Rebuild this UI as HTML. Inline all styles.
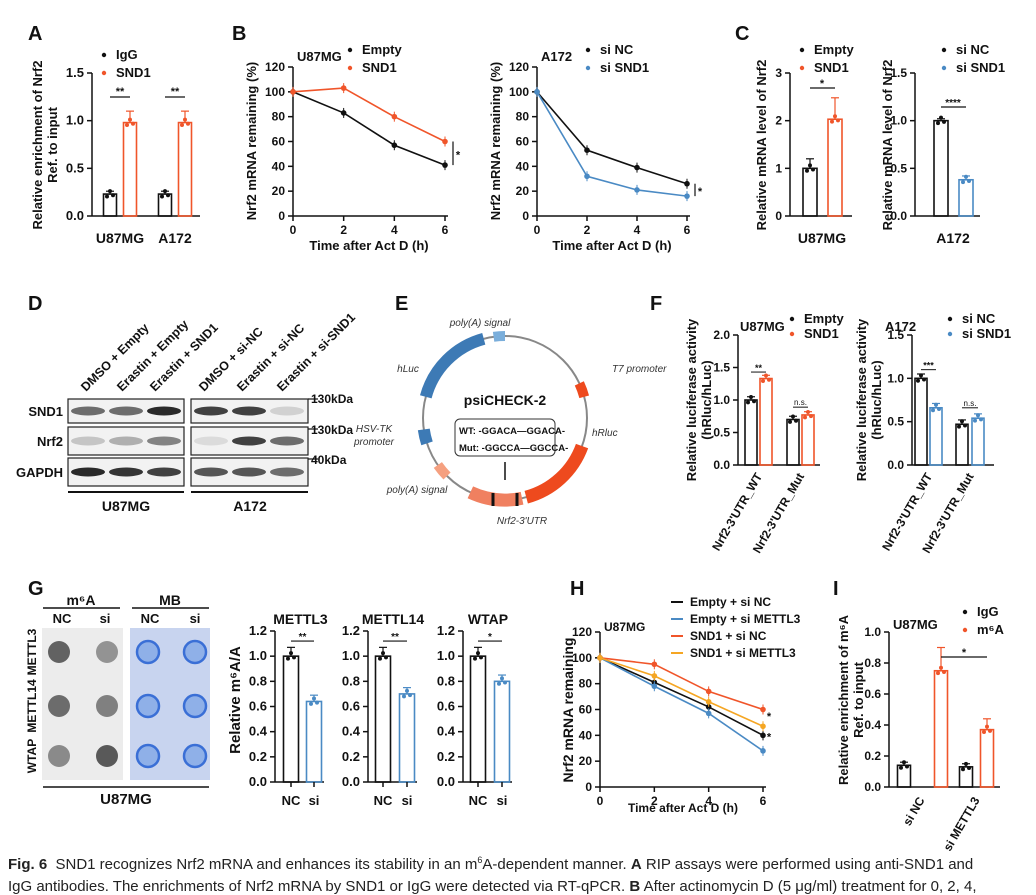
<!DOCTYPE html>
<html><head><meta charset="utf-8">
<style>
html,body{margin:0;padding:0;background:#fff}
svg{display:block;font-family:"Liberation Sans",Arial,sans-serif}
.cap{position:absolute;left:8px;top:849px;width:988px;font:15px/22px "Liberation Sans",sans-serif;color:#222;white-space:normal}
</style></head>
<body>
<div style="position:relative;width:1036px;height:895px;overflow:hidden">
<svg id="fig" width="1036" height="895" viewBox="0 0 1036 895"></svg>
<div class="cap"><b>Fig. 6</b>&nbsp; SND1 recognizes Nrf2 mRNA and enhances its stability in an m<sup style="font-size:9px">6</sup>A-dependent manner. <b>A</b> RIP assays were performed using anti-SND1 and<br>IgG antibodies. The enrichments of Nrf2 mRNA by SND1 or IgG were detected via RT-qPCR. <b>B</b> After actinomycin D (5 μg/ml) treatment for 0, 2, 4,</div>
</div>
<script>
// ---- data ----
const aCats=["U87MG","A172"]; const aIgG=[0.23,0.23]; const aSND1=[0.98,0.98];
const bTime=[0,2,4,6]; const bEmpty=[100,83,57,41]; const bSND1=[100,103,80,60];
const bSiNC=[100,53,39,26]; const bSiSND1=[100,32,21,16];
const cU87=[1.0,2.03]; const cA172=[1.0,0.38];
const fU87=[1.0,1.33,0.7,0.77]; const fA172=[1.0,0.66,0.47,0.54];
const gMETTL3=[1.0,0.64]; const gMETTL14=[1.0,0.7]; const gWTAP=[1.0,0.8];
const hEmptyNC=[100,81,62,40]; const hEmptyM3=[100,78,57,28]; const hSNDNC=[100,95,74,60]; const hSNDM3=[100,86,66,47];
const iIgG=[0.14,0.13]; const iM6A=[0.75,0.37];
const ORG="#f0552a", BLU="#4a8ac4", YEL="#f5a623";
const svg=document.getElementById('fig'); const NS="http://www.w3.org/2000/svg";
function el(tag,attrs,name,txt){const e=document.createElementNS(NS,tag);for(const k in attrs)e.setAttribute(k,attrs[k]);


if(txt!==undefined)e.textContent=txt;svg.appendChild(e);return e;}
function T(x,y,s,sz,opt,name){opt=opt||{};const a={x:x,y:y,'font-size':sz,'font-weight':opt.w||'bold','text-anchor':opt.a||'middle',fill:opt.f||'#111'};
if(opt.r!==undefined)a.transform=`rotate(${opt.r} ${x} ${y})`; if(opt.i)a['font-style']='italic';return el('text',a,name||'label',s);}
function L(x1,y1,x2,y2,c,w,name){return el('line',{x1,y1,x2,y2,stroke:c||'#111','stroke-width':w||1.5},name||'line');}
function yAxis(x,y0,y1,ticks,vmax,fmt,fs){const sc=v=>y0-(y0-y1)*v/vmax;L(x,y0,x,y1,'#111',1.5,'y-axis');
ticks.forEach(t=>{L(x-5,sc(t),x,sc(t),'#111',1.5,'y-tick');T(x-8,sc(t)+4,fmt(t),fs||12,{a:'end'},'y-tick-label');});return sc;}
function bar(cx,w,y0,v,sc,c,name,err){const y=sc(v);el('rect',{x:cx-w/2,y:y,width:w,height:y0-y,fill:'none',stroke:c,'stroke-width':1.6},name);
const e=sc(v+err)-y;L(cx,y,cx,y+e,c,1.2,'error-bar');L(cx-4,y+e,cx+4,y+e,c,1.2,'error-cap');
[-3,0,3].forEach((d,i)=>el('circle',{cx:cx+d,cy:y+[4,-5,2][i]*0.6,r:2,fill:c},'data-point'));}
function lineChart(xs,ys,xsc,ysc,c,name){el('polyline',{points:xs.map((t,i)=>xsc(t)+','+ysc(ys[i])).join(' '),fill:'none',stroke:c,'stroke-width':1.6},name);
xs.forEach((t,i)=>{el('circle',{cx:xsc(t),cy:ysc(ys[i]),r:2.8,fill:c},name+'-point');L(xsc(t),ysc(ys[i])-5,xsc(t),ysc(ys[i])+5,c,1,'error-bar');});}
function legend(x,y,s,c,name,fs){el('circle',{cx:x,cy:y-4,r:2.2,fill:c},name+'-marker');T(x+12,y,s,fs||13,{a:'start'},name);}
// panel letters
[["A",28,40],["B",232,40],["C",735,40],["D",28,310],["E",395,310],["F",650,310],["G",28,595],["H",570,595],["I",833,595]].forEach(p=>T(p[1],p[2],p[0],20,{a:'start'},'panel-label-'+p[0].toLowerCase()));
// ---- A ----
{const sc=yAxis(92,216,73,[0,0.5,1.0,1.5],1.5,v=>v.toFixed(1),13);L(92,216,200,216,'#111',1.5,'x-axis');
const xs=[[110,130],[165,185]];aCats.forEach((c,i)=>{bar(xs[i][0],13,216,aIgG[i],sc,'#111','bar-igg-'+c,0.03);bar(xs[i][1],13,216,aSND1[i],sc,ORG,'bar-snd1-'+c,0.12);
T((xs[i][0]+xs[i][1])/2,243,c,14,{},'x-tick-label');L(xs[i][0],97,xs[i][1],97,'#111',1.2,'sig-bar');T((xs[i][0]+xs[i][1])/2,95,'**',11,{},'sig-label');});
legend(104,59,'IgG','#111','legend-igg');legend(104,77,'SND1',ORG,'legend-snd1');
T(42,145,'Relative enrichment of Nrf2',13,{r:-90},'y-axis-title');T(57,145,'Ref. to input',13,{r:-90},'y-axis-title-2');}
// ---- B ----
function panelB(x0,x6,a1,a2,c2,n1,n2,title,lx){const ysc=yAxis(x0,216,67,[0,20,40,60,80,100,120],120,v=>v,12);const xsc=t=>x0+(x6-x0)*t/6;
L(x0,216,x6+3,216,'#111',1.5,'x-axis');bTime.forEach(t=>{L(xsc(t),216,xsc(t),221,'#111',1.5,'x-tick');T(xsc(t),234,t,12,{},'x-tick-label');});
lineChart(bTime,a1,xsc,ysc,'#111','line-'+n1);lineChart(bTime,a2,xsc,ysc,c2,'line-'+n2);
T(x0+4,61,title,13,{a:'start'},'chart-title');legend(lx,54,n1,'#111','legend-'+n1);legend(lx,72,n2,c2,'legend-'+n2);
T((x0+x6)/2,250,'Time after Act D (h)',13,{},'x-axis-title');T(x0-37,141,'Nrf2 mRNA remaining (%)',13,{r:-90},'y-axis-title');
L(x6+8,ysc(a1[3]),x6+8,ysc(a2[3]),'#111',1.2,'sig-bar');T(x6+13,ysc((a1[3]+a2[3])/2)+5,'*',11,{},'sig-label');}
panelB(293,445,bEmpty,bSND1,ORG,'Empty','SND1','U87MG',350);
panelB(537,687,bSiNC,bSiSND1,BLU,'si NC','si SND1','A172',588);
// ---- C ----
{let sc=yAxis(790,216,73,[0,1,2,3],3,v=>v,12);L(790,216,852,216,'#111',1.5,'x-axis');
bar(810,14,216,cU87[0],sc,'#111','bar-empty',0.2);bar(835,14,216,cU87[1],sc,ORG,'bar-snd1',0.45);T(822,243,'U87MG',14,{},'x-tick-label');
L(810,88,835,88,'#111',1.2,'sig-bar');T(822,87,'*',11,{},'sig-label');legend(802,54,'Empty','#111','legend-empty');legend(802,72,'SND1',ORG,'legend-snd1');
T(766,145,'Relative mRNA level of Nrf2',13,{r:-90},'y-axis-title');
sc=yAxis(915,216,73,[0,0.5,1.0,1.5],1.5,v=>v.toFixed(1),12);L(915,216,980,216,'#111',1.5,'x-axis');
bar(941,14,216,cA172[0],sc,'#111','bar-si-nc',0.02);bar(966,14,216,cA172[1],sc,BLU,'bar-si-snd1',0.04);T(953,243,'A172',14,{},'x-tick-label');
L(941,107,966,107,'#111',1.2,'sig-bar');T(953,106,'****',10,{},'sig-label');legend(944,54,'si NC','#111','legend-si-nc');legend(944,72,'si SND1',BLU,'legend-si-snd1');
T(892,145,'Relative mRNA level of Nrf2',13,{r:-90},'y-axis-title');}
// ---- D blots ----
{const lanes=["DMSO + Empty","Erastin + Empty","Erastin + SND1","DMSO + si-NC","Erastin + si-NC","Erastin + si-SND1"];
const lx=[96,132,165,214,252,292];lanes.forEach((s,i)=>T(lx[i]-10,392,s,12.5,{a:'start',r:-45},'lane-label'));
const rows=[["SND1",399,423,[0.6,0.6,0.9,0.8,0.8,0.15]],["Nrf2",427,455,[0.2,0.3,0.5,0.1,0.8,0.6]],["GAPDH",458,486,[0.9,0.85,0.8,0.7,0.7,0.6]]];
rows.forEach(r=>{T(63,r[1]+(r[2]-r[1])/2+5,r[0],13,{a:'end'},'row-label');
[[68,184],[191,308]].forEach((b,j)=>{el('rect',{x:b[0],y:r[1],width:b[1]-b[0],height:r[2]-r[1],fill:'#f2f2f2',stroke:'#222','stroke-width':1.2},'blot-box');
for(let k=0;k<3;k++){const cx=b[0]+20+k*38;const d=r[3][j*3+k];el('ellipse',{cx:cx,cy:(r[1]+r[2])/2,rx:17,ry:4.5,fill:`rgba(20,20,20,${d})`},'band');}});});
T(311,403,'130kDa',12,{a:'start'},'mw-label');T(311,434,'130kDa',12,{a:'start'},'mw-label');T(311,464,'40kDa',12,{a:'start'},'mw-label');
[399,429,459].forEach(y=>L(308,y,318,y,'#111',1.2,'mw-tick'));
L(68,492,184,492,'#111',2,'group-line');L(191,492,308,492,'#111',2,'group-line');T(126,511,'U87MG',14,{},'group-label');T(250,511,'A172',14,{},'group-label');}
// ---- E plasmid ----
{const cx=505,cy=418,r=82;el('circle',{cx,cy,r,fill:'none',stroke:'#888','stroke-width':2},'plasmid-backbone');
function arc(a0,a1,rr,w,c,name){const p=a=>[cx+rr*Math.cos(a*Math.PI/180),cy+rr*Math.sin(a*Math.PI/180)];const s=p(a0),e=p(a1);
el('path',{d:`M${s[0]},${s[1]} A${rr},${rr} 0 ${Math.abs(a1-a0)>180?1:0} 1 ${e[0]},${e[1]}`,fill:'none',stroke:c,'stroke-width':w},name);}
arc(195,255,r,12,'#3d7ab5','hluc-arc');arc(262,270,r,10,'#7aaedb','polya-signal-arc');arc(162,172,r,12,'#3d7ab5','hsv-tk-arc');
arc(135,145,r,10,'#f5a080','polya-signal-arc-2');arc(335,345,r,10,'#ee4a1e','t7-arc');arc(20,75,r,13,'#ee4a1e','hrluc-arc');arc(78,115,r,13,'#f08060','nrf2-utr-arc');
L(493,493,493,506,'#111',3,'site-mark');L(517,493,517,506,'#111',3,'site-mark');
T(505,405,'psiCHECK-2',14,{},'plasmid-name');el('rect',{x:455,y:419,width:100,height:37,rx:5,fill:'#fff',stroke:'#333','stroke-width':1},'sequence-box');
T(459,434,'WT: -GGACA—GGACA-',9.5,{a:'start'},'wt-sequence');T(459,451,'Mut: -GGCCA—GGCCA-',9.5,{a:'start'},'mut-sequence');
L(505,480,505,462,'#111',1.5,'arrow');
[["poly(A) signal",480,326],["hLuc",408,372],["HSV-TK",374,432],["promoter",374,445],["T7 promoter",612,372],["hRluc",592,436],["poly(A) signal",417,493],["Nrf2-3'UTR",522,524]].forEach(t=>T(t[1],t[2],t[0],10,{w:'normal',i:1,f:'#333',a:t[1]>560?'start':'middle'},'plasmid-annotation'));}
// ---- F ----
function panelF(ax,vals,c,n1,n2,title,tx,lx,vmax,ticks,xs,sig,ytx){const sc=yAxis(ax,465,335,ticks,vmax,v=>v.toFixed(1),12);L(ax,465,ax+82,465,'#111',1.5,'x-axis');
vals.forEach((v,i)=>bar(xs[i],12,465,v,sc,i%2?c:'#111','bar-'+(i%2?n2:n1),0.05));
T((xs[0]+xs[1])/2+4,476,"Nrf2-3'UTR_WT",12,{a:'end',r:-60},'x-tick-label');T((xs[2]+xs[3])/2+4,476,"Nrf2-3'UTR_Mut",12,{a:'end',r:-60},'x-tick-label');
const s1=vals[1]>1?vals[1]+0.1:vals[0]+0.1;L(xs[0],sc(s1),xs[1],sc(s1),'#111',1,'sig-bar');T((xs[0]+xs[1])/2,sc(s1)-1,sig,9,{},'sig-label');
const s2=Math.max(vals[2],vals[3])+0.12;L(xs[2],sc(s2),xs[3],sc(s2),'#111',1,'sig-bar');T((xs[2]+xs[3])/2,sc(s2)-2,'n.s.',8,{w:'normal'},'sig-label');
T(tx,331,title,13,{a:'start'},'chart-title');legend(lx,323,n1,'#111','legend-'+n1,13);legend(lx,338,n2,c,'legend-'+n2,13);
T(ytx,400,'Relative luciferase activity',13,{r:-90},'y-axis-title');T(ytx+15,400,'(hRluc/hLuc)',13,{r:-90},'y-axis-title-2');}
panelF(738,fU87,ORG,'Empty','SND1','U87MG',740,792,2.0,[0,0.5,1.0,1.5,2.0],[751,766,793,808],'**',696);
panelF(912,fA172,BLU,'si NC','si SND1','A172',885,950,1.5,[0,0.5,1.0,1.5],[921,936,962,978],'***',866);
// ---- G ----
{el('rect',{x:42,y:628,width:81,height:152,fill:'#ececec'},'m6a-dot-blot');el('rect',{x:130,y:628,width:80,height:152,fill:'#c8d4ef'},'mb-dot-blot');
const dg=[[0.7,0.45],[0.65,0.55],[0.5,0.75]];[652,706,756].forEach((y,i)=>{[59,107].forEach((x,j)=>el('circle',{cx:x,cy:y,r:11,fill:`rgba(40,40,40,${dg[i][j]})`},'dot'));
[148,195].forEach(x=>el('circle',{cx:x,cy:y,r:11,fill:'#8fb0e8',stroke:'#3a6fd6','stroke-width':2.5},'mb-dot'));});
L(43,608,120,608,'#111',1.5,'group-line');L(132,608,209,608,'#111',1.5,'group-line');T(81,605,'m⁶A',14,{},'group-label');T(170,605,'MB',14,{},'group-label');
[[62,'NC'],[105,'si'],[150,'NC'],[195,'si']].forEach(t=>T(t[0],623,t[1],13,{},'lane-label'));
[['METTL3',652],['METTL14',706],['WTAP',756]].forEach(t=>T(36,t[1],t[0],12,{r:-90},'row-label'));
L(43,787,209,787,'#111',1.5,'group-line');T(126,804,'U87MG',15,{},'group-label');
const gs=[[275,291,314,gMETTL3,'METTL3','**'],[368,383,407,gMETTL14,'METTL14','**'],[463,478,502,gWTAP,'WTAP','*']];
gs.forEach(g=>{const sc=yAxis(g[0],782,631,[0,0.2,0.4,0.6,0.8,1.0,1.2],1.2,v=>v.toFixed(1),13);L(g[0],782,g[2]+10,782,'#111',1.5,'x-axis');
bar(g[1],15,782,g[3][0],sc,'#111','bar-nc',0.07);bar(g[2],15,782,g[3][1],sc,BLU,'bar-si',0.05);
[g[1],g[2]].forEach(x=>L(x,782,x,787,'#111',1.5,'x-tick'));
T(g[1],805,'NC',13,{},'x-tick-label');T(g[2],805,'si',13,{},'x-tick-label');T((g[1]+g[2])/2-2,624,g[4],14,{},'chart-title');
L(g[1],sc(1.12),g[2],sc(1.12),'#111',1.2,'sig-bar');T((g[1]+g[2])/2,sc(1.12)-1,g[5],10,{},'sig-label');});
T(240,700,'Relative m⁶A/A',15,{r:-90},'y-axis-title');}
// ---- H ----
{const x0=600,x6=763;const ysc=yAxis(x0,787,632,[0,20,40,60,80,100,120],120,v=>v,12);const xsc=t=>x0+(x6-x0)*t/6;
L(x0,787,x6+3,787,'#111',1.5,'x-axis');bTime.forEach(t=>{L(xsc(t),787,xsc(t),792,'#111',1.5,'x-tick');T(xsc(t),805,t,12,{},'x-tick-label');});
lineChart(bTime,hEmptyNC,xsc,ysc,'#111','line-empty-si-nc');lineChart(bTime,hEmptyM3,xsc,ysc,BLU,'line-empty-si-mettl3');
lineChart(bTime,hSNDNC,xsc,ysc,ORG,'line-snd1-si-nc');lineChart(bTime,hSNDM3,xsc,ysc,YEL,'line-snd1-si-mettl3');
[['Empty + si NC','#111',606],['Empty + si METTL3',BLU,623],['SND1 + si NC',ORG,640],['SND1 + si METTL3',YEL,657]].forEach(l=>{L(671,l[2]-4,683,l[2]-4,l[1],2,'legend-line');T(690,l[2],l[0],12,{a:'start'},'legend-entry');});
T(604,631,'U87MG',12,{a:'start'},'chart-title');T(683,812,'Time after Act D (h)',12,{},'x-axis-title');T(573,710,'Nrf2 mRNA remaining',14,{r:-90},'y-axis-title');
T(769,ysc(52),'*',11,{},'sig-label');T(769,ysc(36),'*',11,{},'sig-label');}
// ---- I ----
{const sc=yAxis(889,787,632,[0,0.2,0.4,0.6,0.8,1.0],1.0,v=>v.toFixed(1),12);L(889,787,1000,787,'#111',1.5,'x-axis');
bar(904,13,787,iIgG[0],sc,'#111','bar-igg-si-nc',0.02);bar(941,13,787,iM6A[0],sc,ORG,'bar-m6a-si-nc',0.15);
bar(966,13,787,iIgG[1],sc,'#111','bar-igg-si-mettl3',0.02);bar(987,13,787,iM6A[1],sc,ORG,'bar-m6a-si-mettl3',0.07);
L(941,657,987,657,'#111',1.2,'sig-bar');T(964,656,'*',11,{},'sig-label');
T(925,800,'si NC',12,{a:'end',r:-60},'x-tick-label');T(980,800,'si METTL3',12,{a:'end',r:-60},'x-tick-label');
T(893,629,'U87MG',13,{a:'start'},'chart-title');legend(965,616,'IgG','#111','legend-igg');legend(965,634,'m⁶A',ORG,'legend-m6a');
T(848,700,'Relative enrichment of m⁶A',13,{r:-90},'y-axis-title');T(863,700,'Ref. to input',13,{r:-90},'y-axis-title-2');}
</script>
</body></html>
